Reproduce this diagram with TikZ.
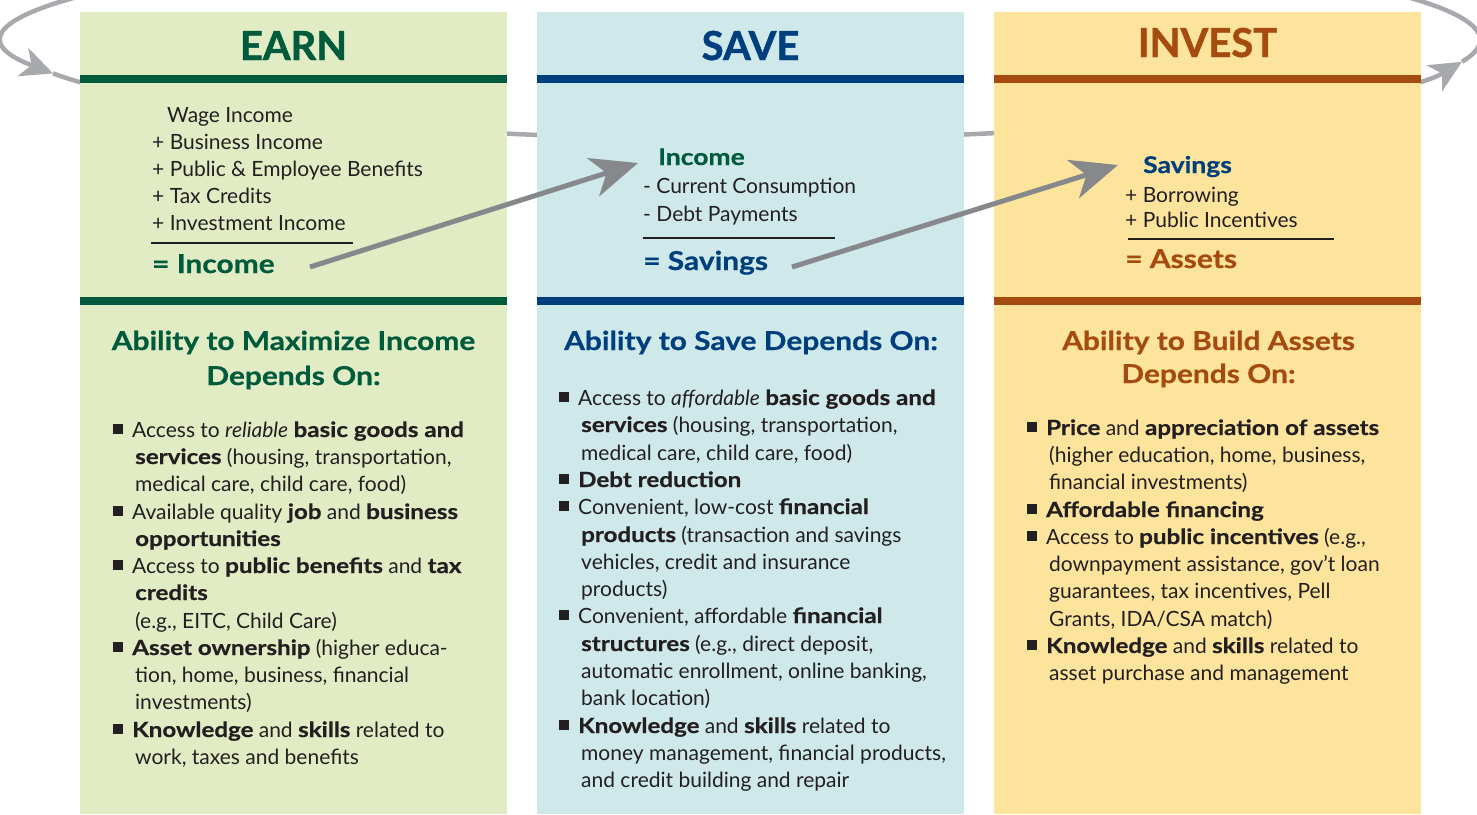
\documentclass[tikz,border=0pt]{standalone}
\usepackage{fontspec}
\setmainfont{Lato}[BoldFeatures={FakeStretch=1.15,FakeBold=0.6}]
\newfontfamily\titlefam{Lato}[BoldFeatures={FakeBold=1.2}]
\usetikzlibrary{arrows.meta}
\definecolor{earnbg}{HTML}{E1ECC4}
\definecolor{earndk}{HTML}{005A3C}
\definecolor{savebg}{HTML}{CFE9EA}
\definecolor{savedk}{HTML}{003F7D}
\definecolor{invbg}{HTML}{FDE49C}
\definecolor{invdk}{HTML}{A64B0F}
\definecolor{txtc}{HTML}{231F20}
\definecolor{loopgray}{HTML}{A7A9AC}
\definecolor{arrgray}{HTML}{87888B}
\newcommand\bsq{\makebox[19pt][l]{\rule[3pt]{10pt}{10pt}}}
\tikzset{
  bodytxt/.style={anchor=base west, inner sep=0pt, text=txtc, font=\fontsize{21}{25}\selectfont},
  title/.style={anchor=base, inner sep=0pt, font=\titlefam\fontsize{40}{48}\selectfont\bfseries},
  subhead/.style={anchor=base, inner sep=0pt, font=\fontsize{26}{30}\selectfont\bfseries},
  sumtxt/.style={anchor=base west, inner sep=0pt, font=\fontsize{26}{32}\selectfont\bfseries},
  srctxt/.style={anchor=base west, inner sep=0pt, font=\fontsize{23}{26}\selectfont\bfseries},
  loopline/.style={draw=loopgray, line width=4.5pt},
  looptip/.style={-{Stealth[length=32pt,width=30pt,inset=9pt]}},
  flowarrow/.style={draw=arrgray, line width=5pt, -{Stealth[length=47pt,width=40pt,inset=14pt]}},
  sumrule/.style={draw=txtc, line width=2pt},
  bandline/.style={line width=8pt}
}
\begin{document}
\begin{tikzpicture}[x=1pt,y=-1pt]
\useasboundingbox (0,0) rectangle (1477,814);
\clip (0,0) rectangle (1477,814);
% background loop
\draw[loopline,looptip] (745,40) ++(250:735 and 99) arc[start angle=250,end angle=160.3,x radius=735,y radius=99];
\draw[loopline,looptip] (745,40) ++(160.3:735 and 99) arc[start angle=160.3,end angle=12.7,x radius=735,y radius=99];
\draw[loopline] (745,40) ++(12.7:735 and 99) arc[start angle=12.7,end angle=-110,x radius=735,y radius=99];
% panels
\fill[earnbg] (80,12) rectangle (507,814);
\fill[savebg] (537,12) rectangle (964,814);
\fill[invbg] (994,12) rectangle (1421,814);
\draw[earndk,bandline] (80,79) -- (507,79);
\draw[earndk,bandline] (80,300.5) -- (507,300.5);
\draw[savedk,bandline] (537,79) -- (964,79);
\draw[savedk,bandline] (537,300.5) -- (964,300.5);
\draw[invdk,bandline] (994,79) -- (1421,79);
\draw[invdk,bandline] (994,300.5) -- (1421,300.5);
% titles
\node[title,text=earndk] (tearn) at (293.5,60) {EARN};
\node[title,text=savedk] (tsave) at (750.5,60) {SAVE};
\node[title,text=invdk] (tinv) at (1207.5,57) {INVEST};
% EARN equation
\node[bodytxt] (ew) at (167,122) {Wage Income};
\node[bodytxt] (eb) at (152,149) {+ Business Income};
\node[bodytxt] (ep) at (152,176) {+ Public \& Employee Benefits};
\node[bodytxt] (et) at (152,203) {+ Tax Credits};
\node[bodytxt] (ei) at (152,230) {+ Investment Income};
\draw[sumrule] (151,243) -- (353,243);
\node[sumtxt,text=earndk] (einc) at (152,273) {= Income};
% SAVE equation
\node[srctxt,text=earndk] (sinc) at (658,165) {Income};
\node[bodytxt] (sc) at (643,193) {- Current Consumption};
\node[bodytxt] (sd) at (643,221) {- Debt Payments};
\draw[sumrule] (643,238) -- (835,238);
\node[sumtxt,text=savedk] (ssav) at (643,270) {= Savings};
% INVEST equation
\node[srctxt,text=savedk] (isav) at (1143,173) {Savings};
\node[bodytxt] (ib) at (1125,202) {+ Borrowing};
\node[bodytxt] (ip) at (1125,227) {+ Public Incentives};
\draw[sumrule] (1128,239) -- (1334,239);
\node[sumtxt,text=invdk] (iass) at (1125,268) {= Assets};
% flow arrows
\coordinate (a1s) at (310,267);
\coordinate (a1e) at (638,163);
\coordinate (a2s) at (792,267);
\coordinate (a2e) at (1118,165);
\draw[flowarrow] (a1s) -- (a1e);
\draw[flowarrow] (a2s) -- (a2e);
% subheadings
\node[subhead,text=earndk] (eh1) at (293.5,350) {Ability to Maximize Income};
\node[subhead,text=earndk] (eh2) at (293.5,385) {Depends On:};
\node[subhead,text=savedk] (sh1) at (751,350) {Ability to Save Depends On:};
\node[subhead,text=invdk] (ih1) at (1208.5,350) {Ability to Build Assets};
\node[subhead,text=invdk] (ih2) at (1208.5,383) {Depends On:};
% EARN bullets
\node[bodytxt] (el1) at (113,437) {\bsq Access to \textit{reliable} \textbf{basic goods and}};
\node[bodytxt] (el2) at (135,464) {\textbf{services} (housing, transportation,};
\node[bodytxt] (el3) at (135,491) {medical care, child care, food)};
\node[bodytxt] (el4) at (113,519) {\bsq Available quality \textbf{job} and \textbf{business}};
\node[bodytxt] (el5) at (135,546) {\textbf{opportunities}};
\node[bodytxt] (el6) at (113,573) {\bsq Access to \textbf{public benefits} and \textbf{tax}};
\node[bodytxt] (el7) at (135,600) {\textbf{credits}};
\node[bodytxt] (el8) at (135,628) {(e.g., EITC, Child Care)};
\node[bodytxt] (el9) at (113,655) {\bsq \textbf{Asset ownership} (higher educa-};
\node[bodytxt] (el10) at (135,682) {tion, home, business, financial};
\node[bodytxt] (el11) at (135,709) {investments)};
\node[bodytxt] (el12) at (113,737) {\bsq \textbf{Knowledge} and \textbf{skills} related to};
\node[bodytxt] (el13) at (135,764) {work, taxes and benefits};
% SAVE bullets
\node[bodytxt] (sl1) at (559,405) {\bsq Access to \textit{affordable} \textbf{basic goods and}};
\node[bodytxt] (sl2) at (581,432) {\textbf{services} (housing, transportation,};
\node[bodytxt] (sl3) at (581,460) {medical care, child care, food)};
\node[bodytxt] (sl4) at (559,487) {\bsq \textbf{Debt reduction}};
\node[bodytxt] (sl5) at (559,514) {\bsq Convenient, low-cost \textbf{financial}};
\node[bodytxt] (sl6) at (581,542) {\textbf{products} (transaction and savings};
\node[bodytxt] (sl7) at (581,569) {vehicles, credit and insurance};
\node[bodytxt] (sl8) at (581,596) {products)};
\node[bodytxt] (sl9) at (559,623) {\bsq Convenient, affordable \textbf{financial}};
\node[bodytxt] (sl10) at (581,651) {\textbf{structures} (e.g., direct deposit,};
\node[bodytxt] (sl11) at (581,678) {automatic enrollment, online banking,};
\node[bodytxt] (sl12) at (581,705) {bank location)};
\node[bodytxt] (sl13) at (559,733) {\bsq \textbf{Knowledge} and \textbf{skills} related to};
\node[bodytxt] (sl14) at (581,760) {money management, financial products,};
\node[bodytxt] (sl15) at (581,787) {and credit building and repair};
% INVEST bullets
\node[bodytxt] (il1) at (1027,435) {\bsq \textbf{Price} and \textbf{appreciation of assets}};
\node[bodytxt] (il2) at (1049,462) {(higher education, home, business,};
\node[bodytxt] (il3) at (1049,489) {financial investments)};
\node[bodytxt] (il4) at (1027,517) {\bsq \textbf{Affordable financing}};
\node[bodytxt] (il5) at (1027,544) {\bsq Access to \textbf{public incentives} (e.g.,};
\node[bodytxt] (il6) at (1049,571) {downpayment assistance, gov’t loan};
\node[bodytxt] (il7) at (1049,598) {guarantees, tax incentives, Pell};
\node[bodytxt] (il8) at (1049,626) {Grants, IDA/CSA match)};
\node[bodytxt] (il9) at (1027,653) {\bsq \textbf{Knowledge} and \textbf{skills} related to};
\node[bodytxt] (il10) at (1049,680) {asset purchase and management};
\end{tikzpicture}
\end{document}
